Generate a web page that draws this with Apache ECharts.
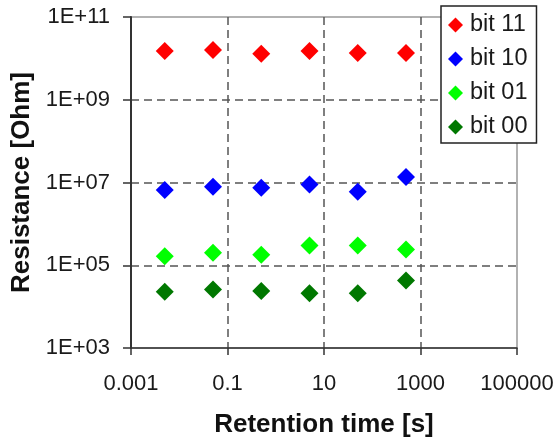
<!DOCTYPE html>
<html>
<head>
<meta charset="utf-8">
<script src="https://cdn.jsdelivr.net/npm/echarts@6/dist/echarts.min.js"></script>
<style>
  html, body { margin: 0; padding: 0; background: #fff; }
  #chart { width: 556px; height: 439px; }
</style>
</head>
<body>
<div id="chart"></div>
<script>
// Retention time of each measurement [s]
const retentionTimes = [0.005, 0.05, 0.5, 5, 50, 500];

// Resistance per stored bit pattern [Ohm]
const bit11 = [1.5e10, 1.6e10, 1.3e10, 1.5e10, 1.35e10, 1.35e10];
const bit10 = [6.6e6, 7.9e6, 7.5e6, 8.9e6, 6.0e6, 1.35e7];
const bit01 = [1.65e5, 2.0e5, 1.8e5, 3.0e5, 3.0e5, 2.4e5];
const bit00 = [2.3e4, 2.6e4, 2.4e4, 2.1e4, 2.1e4, 4.3e4];

const seriesNames = ['bit 11', 'bit 10', 'bit 01', 'bit 00'];
const seriesValues = [bit11, bit10, bit01, bit00];
const seriesColors = ['#ff0000', '#0000ff', '#00ff00', '#007800'];

const FONT = '"Liberation Sans", Arial, sans-serif';

function pairs(ys) {
  return retentionTimes.map((x, i) => [x, ys[i]]);
}

function sciLabel(v) {
  const e = Math.round(Math.log10(v));
  return '1E+' + (e < 10 ? '0' + e : String(e));
}

function plainLabel(v) {
  return String(Number(v.toPrecision(1)));
}

const dashed = { color: '#555', width: 1.5, type: [8, 5] };

const chart = echarts.init(document.getElementById('chart'), null, { renderer: 'canvas' });

chart.setOption({
  animation: false,
  backgroundColor: '#fff',
  grid: {
    left: 131, right: 39, top: 17, bottom: 91,
    outerBoundsMode: 'none',
    containLabel: false,
    show: true, borderColor: '#999', borderWidth: 1.5,
    backgroundColor: 'transparent'
  },
  legend: {
    orient: 'vertical',
    left: 441, top: 6,
    data: seriesNames,
    icon: 'diamond',
    itemWidth: 15, itemHeight: 15,
    itemGap: 10,
    padding: [7, 9, 4, 7],
    borderColor: '#222', borderWidth: 1.5,
    backgroundColor: '#fff',
    textStyle: { fontFamily: FONT, fontSize: 23.5, color: '#1a1a1a', lineHeight: 24, padding: [0, 0, 0, 2] }
  },
  xAxis: {
    type: 'log',
    logBase: 10,
    min: 0.001, max: 100000,
    interval: 2,
    name: 'Retention time [s]',
    nameLocation: 'middle',
    nameGap: 64,
    nameTextStyle: { fontFamily: FONT, fontSize: 26, fontWeight: 'bold', color: '#111' },
    axisLine: { show: true, lineStyle: { color: '#333', width: 1.5 } },
    axisTick: { show: true, inside: false, length: 7, lineStyle: { color: '#333', width: 1.5 } },
    minorTick: { show: false },
    axisLabel: { margin: 25, fontFamily: FONT, fontSize: 22, color: '#1a1a1a', formatter: plainLabel },
    splitLine: { show: true, showMinLine: false, showMaxLine: false, lineStyle: dashed }
  },
  yAxis: {
    type: 'log',
    logBase: 10,
    min: 1e3, max: 1e11,
    interval: 2,
    name: 'Resistance [Ohm]',
    nameLocation: 'middle',
    nameGap: 89,
    nameTextStyle: { fontFamily: FONT, fontSize: 26, fontWeight: 'bold', color: '#111' },
    axisLine: { show: true, lineStyle: { color: '#333', width: 2 } },
    axisTick: { show: true, inside: false, length: 8, lineStyle: { color: '#333', width: 1.5 } },
    minorTick: { show: false },
    axisLabel: { margin: 21, fontFamily: FONT, fontSize: 22, color: '#1a1a1a', formatter: sciLabel },
    splitLine: { show: true, showMinLine: false, showMaxLine: false, lineStyle: dashed }
  },
  series: seriesNames.map((name, k) => ({
    name: name,
    type: 'scatter',
    symbol: 'diamond',
    symbolSize: 18,
    itemStyle: { color: seriesColors[k], opacity: 1 },
    data: pairs(seriesValues[k])
  }))
});
</script>
</body>
</html>
